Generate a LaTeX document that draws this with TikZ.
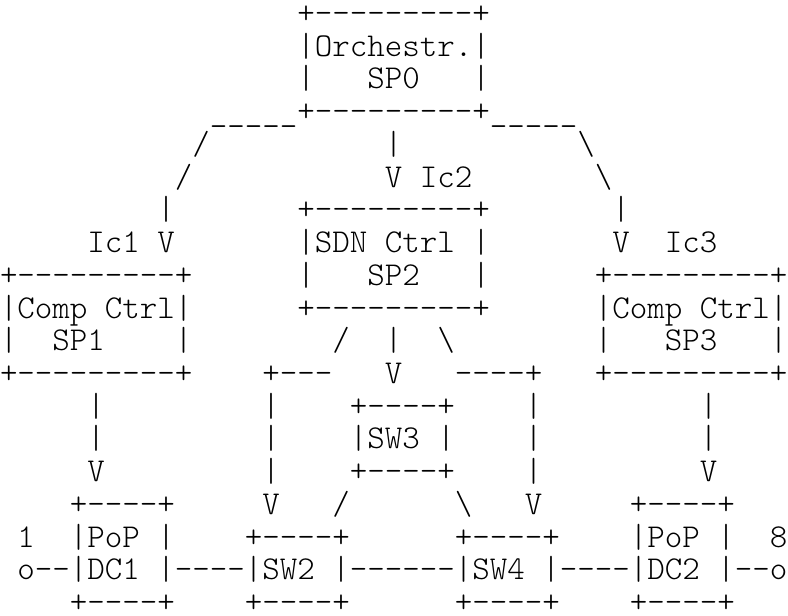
\documentclass[tikz,border=0pt]{standalone}
\usepackage{fontspec}
\setmonofont{lmmonolt10-regular.otf}
\tikzset{line/.style={font=\ttfamily\fontsize{33.33}{38}\selectfont,
  anchor=base west, inner sep=0pt, outer sep=0pt}}
\newcommand{\bs}{\textbackslash}

\begin{document}
\begin{tikzpicture}[x=1pt, y=1pt]
      \useasboundingbox (0, 0) rectangle (788, 616);

      % orchestrator
      \node [line] (r1) at (0, 592.46) {~~~~~~~~~~~~~~~~~+---------+};
      \node [line] (r2) at (0, 559.74) {~~~~~~~~~~~~~~~~~|Orchestr.|};
      \node [line] (r3) at (0, 527.02) {~~~~~~~~~~~~~~~~~|~~~SP0~~~|};
      \node [line] (r4) at (0, 494.30) {~~~~~~~~~~~~\_\_\_\_\_+---------+\_\_\_\_\_};
      \node [line] (r5) at (0, 461.58) {~~~~~~~~~~~/~~~~~~~~~~|~~~~~~~~~~\bs};
      \node [line] (r6) at (0, 428.86) {~~~~~~~~~~/~~~~~~~~~~~V~Ic2~~~~~~~\bs};

      % controllers
      \node [line] (r7) at (0, 396.14) {~~~~~~~~~|~~~~~~~+---------+~~~~~~~|};
      \node [line] (r8) at (0, 363.42) {~~~~~Ic1~V~~~~~~~|SDN~Ctrl~|~~~~~~~V~~Ic3};
      \node [line] (r9) at (0, 330.70) {+---------+~~~~~~|~~~SP2~~~|~~~~~~+---------+};
      \node [line] (r10) at (0, 297.98) {|Comp~Ctrl|~~~~~~+---------+~~~~~~|Comp~Ctrl|};
      \node [line] (r11) at (0, 265.26) {|~~SP1~~~~|~~~~~~~~/~~|~~\bs~~~~~~~~|~~~SP3~~~|};
      \node [line] (r12) at (0, 232.54) {+---------+~~~~+---~~~V~~~----+~~~+---------+};

      % switches
      \node [line] (r13) at (0, 199.82) {~~~~~|~~~~~~~~~|~~~~+----+~~~~|~~~~~~~~~|};
      \node [line] (r14) at (0, 167.10) {~~~~~|~~~~~~~~~|~~~~|SW3~|~~~~|~~~~~~~~~|};
      \node [line] (r15) at (0, 134.38) {~~~~~V~~~~~~~~~|~~~~+----+~~~~|~~~~~~~~~V};
      \node [line] (r16) at (0, 101.66) {~~~~+----+~~~~~V~~~/~~~~~~\bs~~~V~~~~~+----+};

      % data centres
      \node [line] (r17) at (0, 68.94) {~1~~|PoP~|~~~~+----+~~~~~~+----+~~~~|PoP~|~~8};
      \node [line] (r18) at (0, 36.22) {~o--|DC1~|----|SW2~|------|SW4~|----|DC2~|--o};
      \node [line] (r19) at (0, 3.50) {~~~~+----+~~~~+----+~~~~~~+----+~~~~+----+};
\end{tikzpicture}
\end{document}
